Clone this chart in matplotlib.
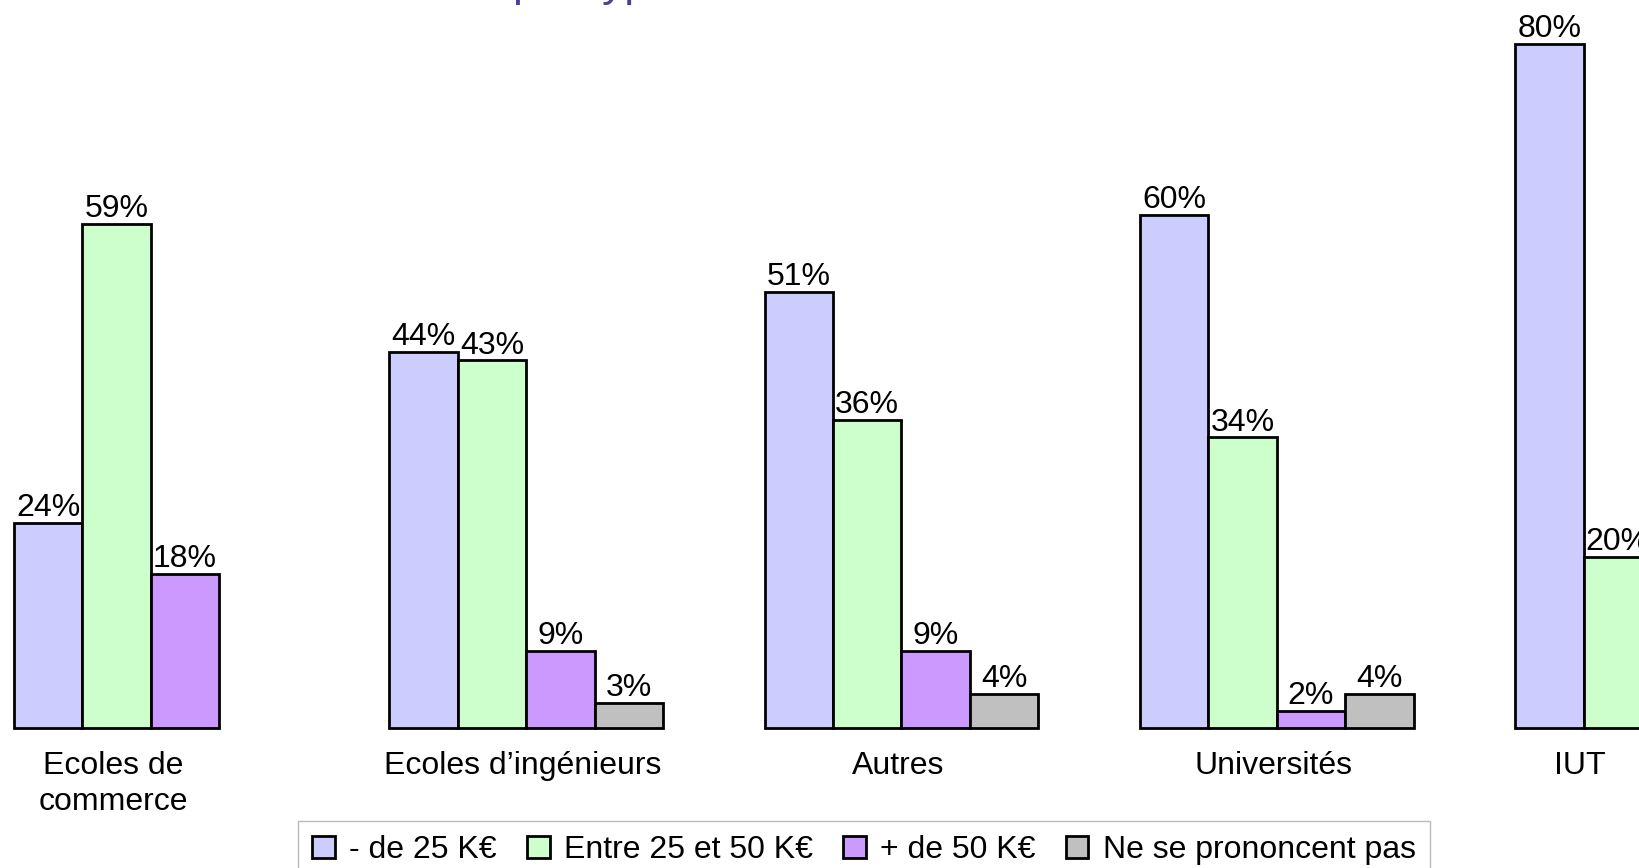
import matplotlib
matplotlib.use("Agg")
import matplotlib.pyplot as plt
from matplotlib.patches import Patch

plt.rcParams['font.family'] = ['Liberation Sans', 'DejaVu Sans']

categories = ["Ecoles de\ncommerce", "Ecoles d\u2019ing\u00e9nieurs", "Autres", "Universit\u00e9s", "IUT"]
series_names = ["- de 25 K\u20ac", "Entre 25 et 50 K\u20ac", "+ de 50 K\u20ac", "Ne se prononcent pas"]
moins_25 = [24, 44, 51, 60, 80]
entre_25_50 = [59, 43, 36, 34, 20]
plus_50 = [18, 9, 9, 2, None]
ne_se_prononcent = [None, 3, 4, 4, None]
series = [moins_25, entre_25_50, plus_50, ne_se_prononcent]
colors = ["#CCCCFF", "#CCFFCC", "#CC99FF", "#C0C0C0"]

W, H = 1640, 868
fig = plt.figure(figsize=(W / 100, H / 100), dpi=100)
ax = fig.add_axes([0, 0, 1, 1])

group_step = 5.487
bar_w = 1.0
FS = 23

for j, (vals, col) in enumerate(zip(series, colors)):
    for i, v in enumerate(vals):
        if v is None:
            continue
        x = i * group_step + j * bar_w
        ax.bar(x, v, width=bar_w, align='edge', color=col, edgecolor='black',
               linewidth=2.0, zorder=2)
        ax.annotate(f"{v}%", (x + bar_w / 2, v), xytext=(0, 5),
                    textcoords='offset points', ha='center', va='baseline',
                    fontsize=FS, color='black', zorder=3)

for i, cat in enumerate(categories):
    n = sum(1 for s in series if s[i] is not None)
    cx = i * group_step + n * bar_w / 2 - 0.05
    ax.text(cx, -2.6, cat, ha='center', va='top', fontsize=FS,
            color='black', linespacing=1.3)

ax.set_xlim(-14 / 68.4, (W - 14) / 68.4)
ax.set_ylim(-(H - 728.3) / 8.554, 728.3 / 8.554)
ax.axis('off')

handles = [Patch(facecolor=c, edgecolor='black', linewidth=2.0) for c in colors]
leg = fig.legend(handles, series_names, loc='upper center',
                 bbox_to_anchor=(864 / W, 1 - 821 / H), bbox_transform=fig.transFigure,
                 ncol=4, fontsize=FS, frameon=True, fancybox=False,
                 handlelength=0.7, handleheight=0.7, handletextpad=0.45,
                 columnspacing=0.95, borderpad=0.45, borderaxespad=0)
leg.get_frame().set_edgecolor('#AAAAAA')
leg.get_frame().set_linewidth(1.0)

# partially visible title (cut off at the top of the image)
fig.text(513 / W, (H + 4) / H, "par type", fontsize=32, color='#4B3F96',
         ha='left', va='baseline')

fig.savefig("out.png", dpi=100)
